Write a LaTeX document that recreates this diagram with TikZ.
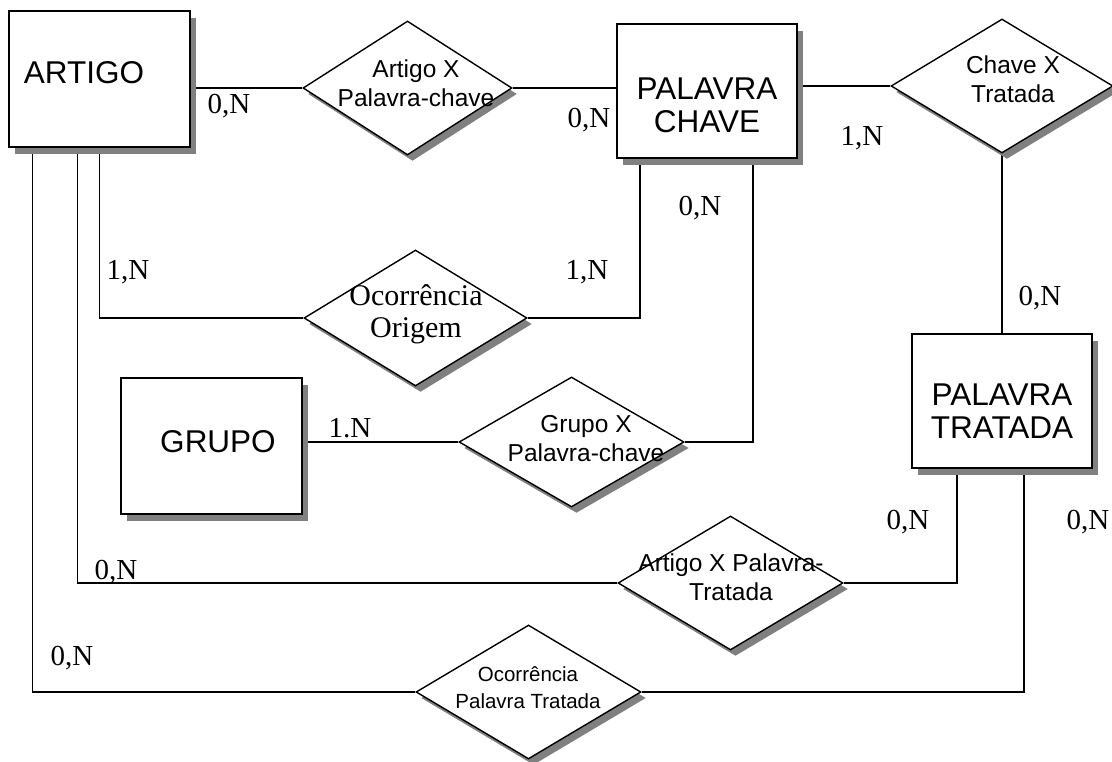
\documentclass[tikz,border=0pt]{standalone}
\usepackage{fontspec}
\setmainfont{Liberation Serif}
\newfontfamily\arialfont{Liberation Sans}
\usetikzlibrary{shapes.geometric,shadows,backgrounds}
\definecolor{shadowgray}{RGB}{128,128,128}
\tikzset{
  conn/.style={line width=1.5pt},
  entity/.style={draw, line width=1.8pt, fill=white, inner sep=0pt,
    general shadow={fill=shadowgray, shadow xshift=6pt, shadow yshift=-7pt}},
  relation/.style={diamond, draw, line width=1.4pt, fill=white, inner sep=0pt,
    general shadow={fill=shadowgray, shadow xshift=5pt, shadow yshift=-6pt}},
  enttext/.style={font=\arialfont\fontsize{31.5}{33}\selectfont, align=center, inner sep=0pt},
  reltext/.style={font=\arialfont\fontsize{24.5}{29}\selectfont, align=center, inner sep=0pt},
  card/.style={font=\fontsize{29}{30}\selectfont, inner sep=0pt}
}
\begin{document}
\begin{tikzpicture}[x=1pt, y=-1pt]
\useasboundingbox (0,0) rectangle (1112,762);

% entities
\node[entity, minimum width=181pt, minimum height=136pt] (artigo) at (99.5,79) {};
\node[entity, minimum width=180pt, minimum height=134pt] (pc) at (707,91) {};
\node[entity, minimum width=180pt, minimum height=134pt] (pt) at (1002,401) {};
\node[entity, minimum width=181pt, minimum height=136pt] (grupo) at (211.5,446) {};

% relationships
\node[relation, minimum width=209pt, minimum height=134pt] (dA) at (407.5,88) {};
\node[relation, minimum width=222pt, minimum height=134pt] (dB) at (1002,86) {};
\node[relation, minimum width=223pt, minimum height=136pt] (dC) at (415.5,318) {};
\node[relation, minimum width=225pt, minimum height=130pt] (dD) at (571.5,442) {};
\node[relation, minimum width=225pt, minimum height=134pt] (dE) at (730.5,583) {};
\node[relation, minimum width=225pt, minimum height=134pt] (dF) at (528.5,692) {};

% connectors, kept behind the shapes
\begin{pgfonlayer}{background}
\draw[conn] (dA.west -| artigo.east) -- (dA.west);
\draw[conn] (dA.east) -- (dA.east -| pc.west);
\draw[conn] (dB.west -| pc.east) -- (dB.west);
\draw[conn] (dB.south) -- (pt.north);
\draw[conn] (artigo.south) |- (dC.west);
\draw[conn] ([xshift=-67pt]pc.south) |- (dC.east);
\draw[conn] (dD.west -| grupo.east) -- (dD.west);
\draw[conn] ([xshift=46pt]pc.south) |- (dD.east);
\draw[conn] ([xshift=-22pt]artigo.south) |- (dE.west);
\draw[conn] ([xshift=-45pt]pt.south) |- (dE.east);
\draw[conn] ([xshift=-67pt]artigo.south) |- (dF.west);
\draw[conn] ([xshift=22pt]pt.south) |- (dF.east);
\end{pgfonlayer}

% entity names
\node[enttext] (artigo-t) at (84,73) {ARTIGO};
\node[enttext] (pc-t) at (707,105) {PALAVRA\\CHAVE};
\node[enttext] (pt-t) at (1002,411) {PALAVRA\\TRATADA};
\node[enttext] (grupo-t) at (218,442) {GRUPO};

% relationship names
\node[reltext] (dA-t) at (416,83) {Artigo X\\Palavra-chave};
\node[reltext] (dB-t) at (1013,79) {Chave X\\Tratada};
\node[font=\fontsize{30}{32}\selectfont, align=center, inner sep=0pt] (dC-t) at (416,314) {Ocorrência\\Origem};
\node[reltext] (dD-t) at (586,439) {Grupo X\\Palavra-chave};
\node[reltext] (dE-t) at (731,577) {Artigo X Palavra-\\Tratada};
\node[font=\arialfont\fontsize{20.5}{27}\selectfont, align=center, inner sep=0pt] (dF-t) at (528,688) {Ocorrência\\Palavra Tratada};

% cardinalities
\node[card] (c1) at (229,106) {0,N};
\node[card] (c2) at (589,120) {0,N};
\node[card] (c3) at (862,138) {1,N};
\node[card] (c4) at (700,208) {0,N};
\node[card] (c5) at (128,272) {1,N};
\node[card] (c6) at (587,272) {1,N};
\node[card] (c7) at (1040,298) {0,N};
\node[card] (c8) at (350,428) {1.N};
\node[card] (c9) at (116,572) {0,N};
\node[card] (c10) at (908,522) {0,N};
\node[card] (c11) at (1088,522) {0,N};
\node[card] (c12) at (72,658) {0,N};
\end{tikzpicture}
\end{document}
